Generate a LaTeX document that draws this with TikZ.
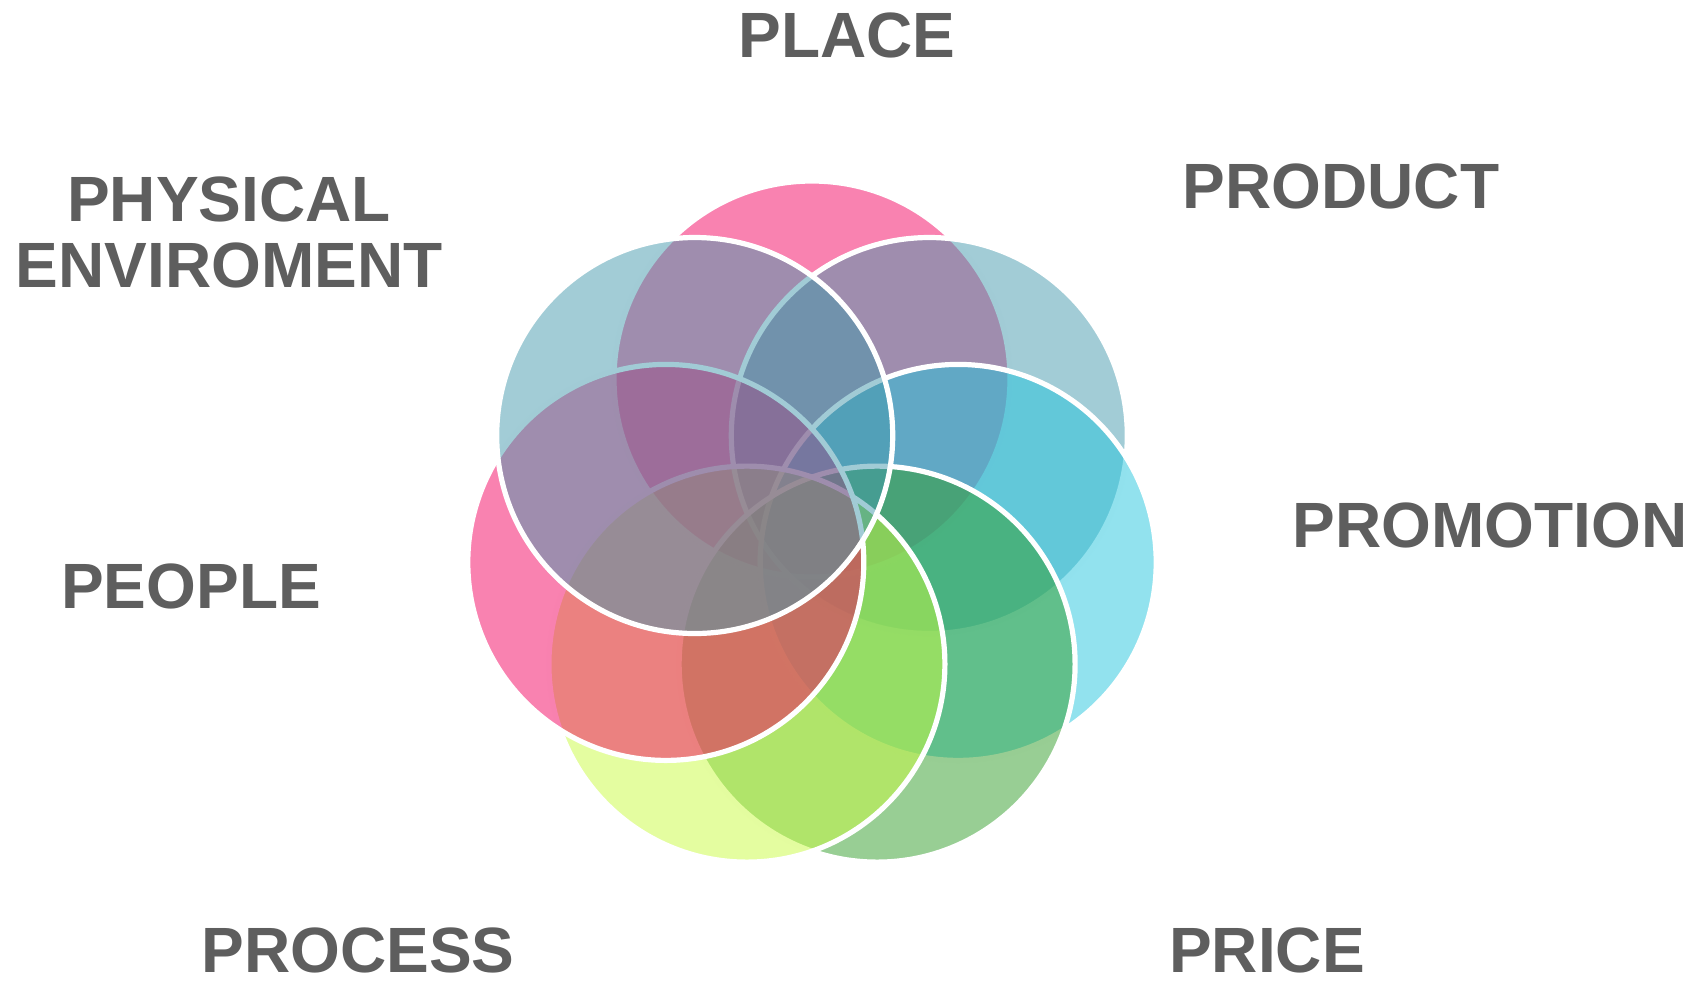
\documentclass[tikz,border=0pt]{standalone}
\usepackage{fontspec}
\setmainfont{Liberation Sans}
\definecolor{labelgrey}{HTML}{5E5E5E}
\definecolor{placepink}{RGB}{243,5,97}
\definecolor{tealgrey}{RGB}{69,153,173}
\definecolor{promocyan}{RGB}{37,197,221}
\definecolor{pricegreen}{RGB}{49,157,41}
\definecolor{processlime}{RGB}{201,251,65}
\begin{document}
\begin{tikzpicture}[x=0.5pt, y=-0.5pt, main/.style = {draw=white, line width=2.6pt, circle, inner sep=0pt, minimum size=198pt, fill opacity=0.5}, lbl/.style = {font=\fontsize{32}{33}\selectfont\bfseries, text=labelgrey, align=center, inner sep=1pt}] 
    \useasboundingbox (0,0) rectangle (1690,987);
    \node[main, fill=placepink] (1) at (812,379) {}; 
    \node[main, fill=tealgrey] (2) at (929.3,435.5) {};
    \node[main, fill=promocyan] (3) at (958.2,562.4) {};
    \node[main, fill=pricegreen] (4) at (877.1,664.1) {};
    \node[main, fill=processlime] (5) at (746.9,664.1) {};
    \node[main, fill=placepink] (6) at (665.8,562.4) {};
    \node[main, fill=tealgrey] (7) at (694.7,435.5) {};



    \node[lbl] (place) at (847,35) {PLACE};
    \node[lbl] (product) at (1341,186) {PRODUCT};
    \node[lbl] (promotion) at (1490,525) {PROMOTION};
    \node[lbl] (price) at (1267,950) {PRICE};
    \node[lbl] (process) at (358,950) {PROCESS};
    \node[lbl] (people) at (191,586) {PEOPLE};
    \node[lbl] (physical) at (229,232) {PHYSICAL\\ENVIROMENT};


\end{tikzpicture}
\end{document}
